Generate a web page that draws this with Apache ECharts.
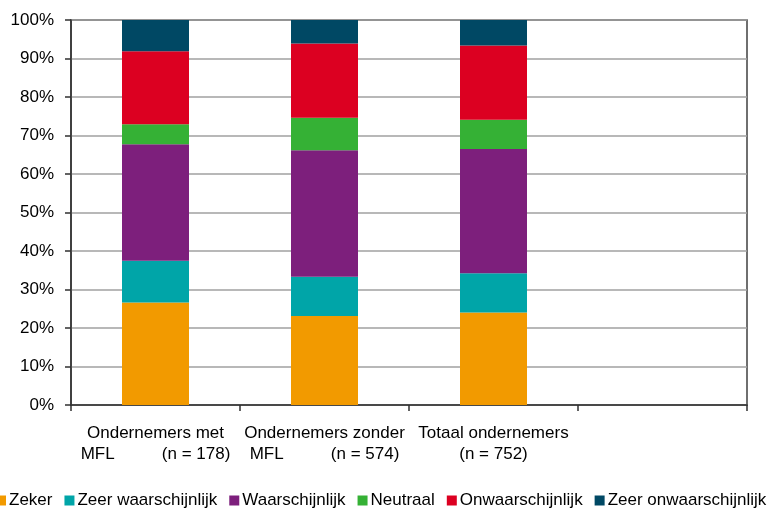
<!DOCTYPE html>
<html>
<head>
<meta charset="utf-8">
<script src="https://cdn.jsdelivr.net/npm/echarts@6/dist/echarts.min.js"></script>
<style>
  html, body { margin: 0; padding: 0; background: #fff; }
  #chart { width: 767px; height: 511px; }
</style>
</head>
<body>
<div id="chart"></div>
<script>
const categories = [
  'Ondernemers met\nMFL          (n = 178)',
  'Ondernemers zonder\nMFL          (n = 574)',
  'Totaal ondernemers\n(n = 752)',
  ''
];
const seriesNames = ['Zeker', 'Zeer waarschijnlijk', 'Waarschijnlijk', 'Neutraal', 'Onwaarschijnlijk', 'Zeer onwaarschijnlijk'];
const zeker = [26.6, 23.1, 24.0, null];
const zeerWaarschijnlijk = [10.9, 10.2, 10.2, null];
const waarschijnlijk = [30.2, 32.9, 32.3, null];
const neutraal = [5.2, 8.4, 7.6, null];
const onwaarschijnlijk = [19.0, 19.3, 19.3, null];
const zeerOnwaarschijnlijk = [8.1, 6.1, 6.6, null];
const colors = ['#f29a00', '#00a5a8', '#7d1f7c', '#35b135', '#dc0021', '#004864'];

const font = '"Liberation Sans Narrow", "Liberation Sans", sans-serif';
const chart = echarts.init(document.getElementById('chart'), null, { renderer: 'canvas' });

const values = [zeker, zeerWaarschijnlijk, waarschijnlijk, neutraal, onwaarschijnlijk, zeerOnwaarschijnlijk];

chart.setOption({
  animation: false,
  color: colors,
  textStyle: { fontFamily: font },
  grid: {
    left: 71, right: 20, top: 20, bottom: 106,
    show: true, borderColor: '#404040', borderWidth: 1.5
  },
  legend: {
    bottom: -3, left: -9, width: 1000,
    itemWidth: 10, itemHeight: 10, itemGap: 12,
    icon: 'rect',
    textStyle: { fontFamily: font, fontSize: 17, color: '#000', padding: [0, 0, 0, -2] },
    data: seriesNames
  },
  xAxis: {
    type: 'category',
    data: categories,
    axisLine: { lineStyle: { color: '#303030', width: 1.5 } },
    axisTick: { show: true, length: 6, alignWithLabel: false, lineStyle: { color: '#303030', width: 1.5 } },
    axisLabel: {
      interval: 0, color: '#000', fontSize: 17, fontFamily: font,
      lineHeight: 21, margin: 18
    }
  },
  yAxis: {
    type: 'value', min: 0, max: 100, interval: 10,
    axisLine: { show: true, lineStyle: { color: '#303030', width: 1.5 } },
    axisTick: { show: true, length: 6, lineStyle: { color: '#303030', width: 1.5 } },
    axisLabel: { formatter: '{value}%', color: '#000', fontSize: 17, fontFamily: font, margin: 17 },
    splitLine: { lineStyle: { color: '#a0a0a0', width: 1.5 } }
  },
  series: seriesNames.map((name, i) => ({
    name,
    type: 'bar',
    stack: 'total',
    barWidth: 67,
    data: values[i]
  }))
});
</script>
</body>
</html>
